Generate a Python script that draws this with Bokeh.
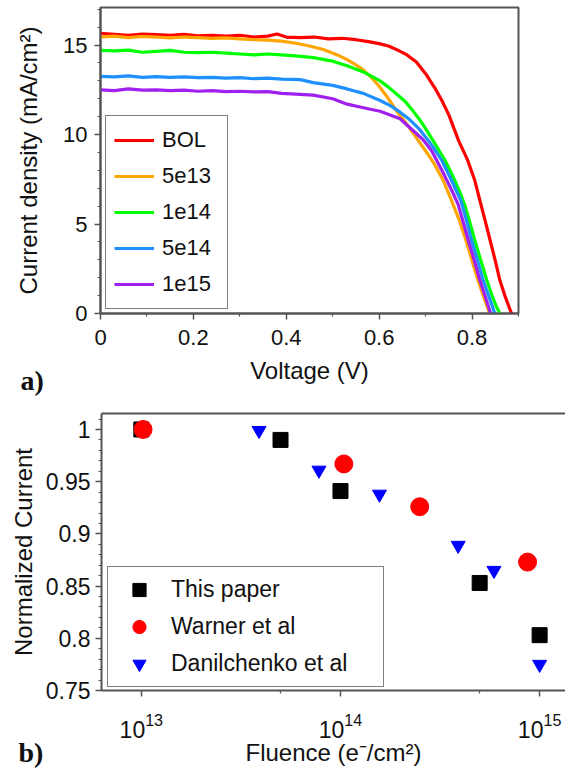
from bokeh.plotting import figure
from bokeh.models import (Range1d, FixedTicker, CustomJSTickFormatter, Label,
                          LogAxis)
from bokeh.embed import file_html
from bokeh.resources import INLINE

# ---------------- data: panel a) J-V curves ----------------
v_bol = [0.00, 0.03, 0.06, 0.09, 0.12, 0.15, 0.18, 0.21, 0.24, 0.27, 0.30, 0.33, 0.36, 0.38,
         0.40, 0.43, 0.46, 0.49, 0.52, 0.55, 0.58, 0.60, 0.62, 0.64, 0.66, 0.68, 0.70, 0.72,
         0.735, 0.75, 0.771, 0.79, 0.806, 0.817, 0.828, 0.839, 0.850, 0.860, 0.872, 0.885]
j_bol = [15.65, 15.60, 15.55, 15.62, 15.58, 15.55, 15.60, 15.52, 15.55, 15.50, 15.55, 15.45, 15.50, 15.62,
         15.45, 15.42, 15.45, 15.35, 15.38, 15.30, 15.18, 15.08, 14.95, 14.72, 14.45, 14.05, 13.40, 12.60,
         11.90, 11.10, 9.66, 8.60, 7.43, 6.30, 5.20, 4.08, 2.95, 1.84, 0.90, 0.00]

v_5e13 = [0.00, 0.03, 0.06, 0.09, 0.12, 0.15, 0.18, 0.21, 0.24, 0.27, 0.30, 0.33, 0.36, 0.39,
          0.42, 0.45, 0.48, 0.51, 0.53, 0.55, 0.566, 0.585, 0.60, 0.62, 0.638, 0.656, 0.674,
          0.69, 0.705, 0.72, 0.738, 0.756, 0.772, 0.787, 0.800, 0.813, 0.826, 0.838]
j_5e13 = [15.45, 15.50, 15.42, 15.48, 15.45, 15.40, 15.45, 15.42, 15.38, 15.40, 15.35, 15.30, 15.28, 15.22,
          15.10, 14.95, 14.75, 14.45, 14.20, 13.90, 13.60, 13.15, 12.70, 12.00, 11.30, 10.70, 10.05,
          9.45, 8.90, 8.30, 7.43, 6.30, 5.25, 4.08, 2.95, 1.84, 0.85, 0.00]

v_1e14 = [0.00, 0.03, 0.06, 0.09, 0.12, 0.15, 0.18, 0.21, 0.24, 0.27, 0.30, 0.33, 0.36, 0.39,
          0.42, 0.458, 0.50, 0.531, 0.566, 0.602, 0.62, 0.638, 0.656, 0.672, 0.688, 0.702, 0.716,
          0.742, 0.763, 0.775, 0.785, 0.795, 0.806, 0.819, 0.832, 0.843, 0.853, 0.860]
j_1e14 = [14.70, 14.68, 14.72, 14.60, 14.65, 14.70, 14.60, 14.58, 14.60, 14.55, 14.50, 14.45, 14.50, 14.45,
          14.40, 14.30, 14.10, 13.85, 13.50, 13.00, 12.65, 12.25, 11.85, 11.35, 10.80, 10.25, 9.66,
          8.55, 7.43, 6.70, 6.00, 5.10, 4.08, 2.95, 1.84, 1.00, 0.35, 0.00]

v_5e14 = [0.00, 0.03, 0.06, 0.09, 0.12, 0.15, 0.18, 0.21, 0.24, 0.27, 0.30, 0.33, 0.36, 0.39,
          0.43, 0.458, 0.50, 0.531, 0.566, 0.602, 0.625, 0.645, 0.665, 0.685, 0.706, 0.72, 0.735,
          0.756, 0.776, 0.788, 0.799, 0.812, 0.824, 0.837, 0.849]
j_5e14 = [13.25, 13.22, 13.28, 13.20, 13.24, 13.20, 13.22, 13.18, 13.20, 13.15, 13.18, 13.12, 13.15, 13.10,
          13.07, 12.90, 12.75, 12.55, 12.30, 11.90, 11.60, 11.25, 10.85, 10.35, 9.66, 9.15, 8.55,
          7.43, 6.30, 5.20, 4.08, 2.95, 1.84, 0.90, 0.00]

v_1e15 = [0.00, 0.03, 0.06, 0.09, 0.12, 0.15, 0.18, 0.21, 0.24, 0.27, 0.30, 0.33, 0.36, 0.39,
          0.43, 0.458, 0.50, 0.531, 0.566, 0.602, 0.625, 0.645, 0.674, 0.695, 0.713, 0.735, 0.756,
          0.770, 0.781, 0.792, 0.805, 0.817, 0.829, 0.840]
j_1e15 = [12.50, 12.45, 12.55, 12.48, 12.50, 12.45, 12.48, 12.42, 12.45, 12.40, 12.42, 12.38, 12.40, 12.30,
          12.25, 12.20, 12.00, 11.70, 11.50, 11.30, 11.08, 10.88, 10.20, 9.70, 9.10, 8.00, 6.90,
          6.10, 5.10, 4.08, 2.95, 1.84, 0.90, 0.00]

series_names = ["BOL", "5e13", "1e14", "5e14", "1e15"]
series_colors = ["#ff0000", "#ffa500", "#00ff00", "#1e90ff", "#a020f0"]
x_ticks_a = [0, 0.2, 0.4, 0.6, 0.8]
y_ticks_a = [0, 5, 10, 15]

# ---------------- data: panel b) normalized current ----------------
fl_this = [1e13, 5e13, 1e14, 5e14, 1e15]
nc_this = [1.000, 0.990, 0.941, 0.853, 0.803]
fl_warner = [1.02e13, 1.04e14, 2.5e14, 8.7e14]
nc_warner = [1.000, 0.967, 0.926, 0.873]
fl_dan = [3.9e13, 7.8e13, 1.57e14, 3.9e14, 5.9e14, 1e15]
nc_dan = [0.999, 0.961, 0.938, 0.889, 0.865, 0.775]
x_ticks_b = [1e13, 1e14, 1e15]
x_minor_b = [5e13, 5e14]
y_ticks_b = [0.75, 0.8, 0.85, 0.9, 0.95, 1.0]
panel_tags = ["a)", "b)"]

FONT = "Liberation Sans"
AX = "#555555"
W, H = 565, 772
H1 = 393


def style_axes(ax, tick_size, label_size, standoff, label_standoff):
    ax.axis_line_color = AX
    ax.axis_line_width = 2
    ax.major_tick_line_color = AX
    ax.minor_tick_line_color = AX
    ax.major_tick_line_width = 1.5
    ax.minor_tick_line_width = 1.2
    ax.major_tick_out = 6
    ax.major_tick_in = 0
    ax.minor_tick_out = 3
    ax.minor_tick_in = 0
    ax.major_label_text_font = FONT
    ax.major_label_text_font_size = tick_size
    ax.major_label_text_color = "#111111"
    ax.major_label_text_line_height = 1.0
    ax.major_label_standoff = standoff
    ax.axis_label_text_font = FONT
    ax.axis_label_text_font_size = label_size
    ax.axis_label_text_font_style = "normal"
    ax.axis_label_text_color = "#111111"
    ax.axis_label_text_line_height = 1.0
    ax.axis_label_standoff = label_standoff


fmt = CustomJSTickFormatter(code="return String(Math.round(tick*100)/100)")

# ---------------- panel a ----------------
p1 = figure(width=W, height=H1, output_backend="svg", toolbar_location=None,
            x_range=Range1d(0, 0.9), y_range=Range1d(0, 17.1),
            min_border_left=100, min_border_right=47, min_border_top=7,
            min_border_bottom=H1 - 313)
p1.grid.visible = False
p1.outline_line_color = AX
p1.outline_line_width = 2
p1.background_fill_color = "white"
p1.border_fill_color = "white"

curves = [(v_bol, j_bol), (v_5e13, j_5e13), (v_1e14, j_1e14), (v_5e14, j_5e14), (v_1e15, j_1e15)]
for (vv, jj), name, col in zip(curves, series_names, series_colors):
    p1.line(vv, jj, line_color=col, line_width=3.2, line_join="round", legend_label=name)

p1.xaxis.ticker = FixedTicker(ticks=x_ticks_a, minor_ticks=[0.1, 0.3, 0.5, 0.7, 0.9])
p1.yaxis.ticker = FixedTicker(ticks=y_ticks_a, minor_ticks=list(range(0, 18)))
p1.xaxis.formatter = fmt
p1.yaxis.formatter = fmt
p1.xaxis.axis_label = "Voltage (V)"
p1.yaxis.axis_label = "Current density (mA/cm²)"
style_axes(p1.xaxis[0], "22px", "24px", 10, 9)
style_axes(p1.yaxis[0], "22px", "24px", 7, 18)

lg = p1.legend[0]
lg.location = (5, 4)
lg.label_text_font = FONT
lg.label_text_font_size = "22px"
lg.label_text_color = "#111111"
lg.glyph_width = 40
lg.glyph_height = 32
lg.label_height = 32
lg.label_width = 57
lg.label_standoff = 8
lg.spacing = 4
lg.padding = 8
lg.margin = 0
lg.border_line_color = "black"
lg.border_line_width = 1.5
lg.background_fill_alpha = 1

# ---------------- panel b ----------------
H2 = H - H1
p2 = figure(width=W, height=H2, output_backend="svg", toolbar_location=None,
            x_axis_type="log", x_range=Range1d(10 ** 12.8, 10 ** 15.13),
            y_range=Range1d(0.75, 1.0153),
            min_border_left=101, min_border_right=0, min_border_top=413 - H1,
            min_border_bottom=H - 690)
p2.grid.visible = False
p2.outline_line_color = None
p2.background_fill_color = "white"
p2.border_fill_color = "white"

p2.scatter(fl_this, nc_this, marker="square", size=15, fill_color="black", line_color="black",
           legend_label="This paper")
p2.scatter(fl_warner, nc_warner, marker="circle", size=18, fill_color="#ff0000", line_color="#ff0000",
           legend_label="Warner et al")
p2.scatter(fl_dan, nc_dan, marker="inverted_triangle", size=14, fill_color="#0000ff", line_color="#0000ff",
           legend_label="Danilchenko et al")

p2.xaxis.ticker = FixedTicker(ticks=x_ticks_b, minor_ticks=x_minor_b)
p2.yaxis.ticker = FixedTicker(ticks=y_ticks_b,
                              minor_ticks=[0.75 + 0.01 * i for i in range(27)])
p2.yaxis.formatter = fmt
p2.xaxis.axis_label = "Fluence (e⁻/cm²)"
p2.yaxis.axis_label = "Normalized Current"
style_axes(p2.xaxis[0], "23px", "24px", 16, -2)
style_axes(p2.yaxis[0], "23px", "24px", 5, 6)

top = LogAxis(ticker=FixedTicker(ticks=[]), axis_line_color=AX, axis_line_width=2,
              major_tick_line_color=None, minor_tick_line_color=None,
              major_tick_out=0, minor_tick_out=0, major_label_standoff=0,
              major_label_text_font_size="0px")
p2.add_layout(top, "above")

lg2 = p2.legend[0]
lg2.location = (6, 3)
lg2.label_text_font = FONT
lg2.label_text_font_size = "23px"
lg2.label_text_color = "#111111"
lg2.glyph_width = 50
lg2.glyph_height = 33
lg2.label_height = 33
lg2.label_width = 206
lg2.label_standoff = 7
lg2.spacing = 4
lg2.padding = 6
lg2.margin = 0
lg2.border_line_color = "black"
lg2.border_line_width = 1.5

# ---------------- transparent overlay carrying the panel tags ----------------
p3 = figure(width=W, height=H, output_backend="svg", toolbar_location=None,
            x_range=Range1d(0, W), y_range=Range1d(0, H),
            x_axis_location=None, y_axis_location=None,
            min_border_left=0, min_border_right=0, min_border_top=0, min_border_bottom=0,
            styles={"position": "absolute", "top": "0px", "left": "0px",
                    "pointer-events": "none"})
p3.grid.visible = False
p3.outline_line_color = None
p3.background_fill_color = None
p3.border_fill_color = None
for tag, (tx, ty) in zip(panel_tags, [(20, H - 380), (18, H - 752)]):
    p3.add_layout(Label(x=tx, y=ty, x_units="screen", y_units="screen", text=tag,
                        text_font="Liberation Serif", text_font_style="bold",
                        text_font_size="28px", text_color="#111111",
                        text_baseline="alphabetic"))

open("out.html", "w").write(file_html([p1, p2, p3], INLINE))
